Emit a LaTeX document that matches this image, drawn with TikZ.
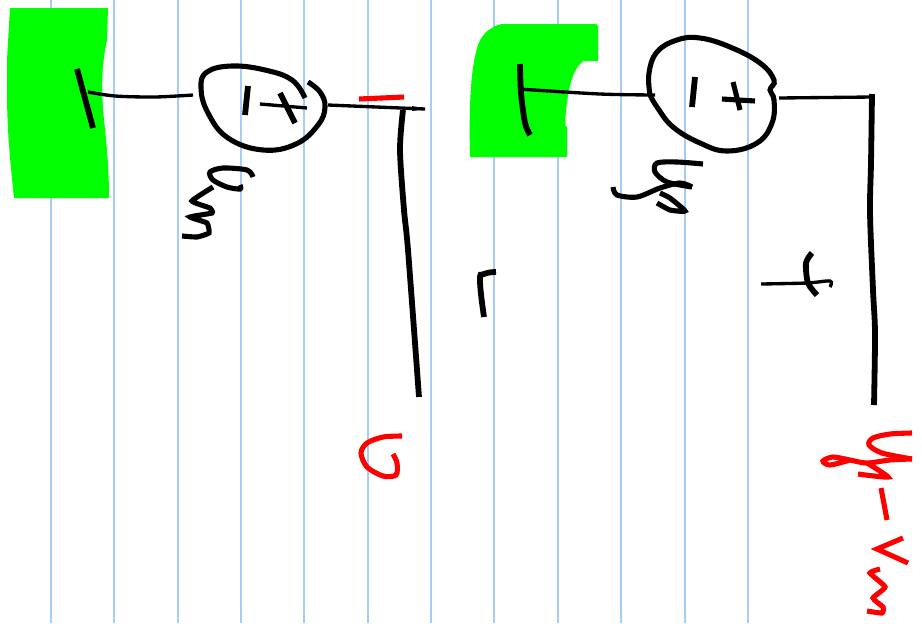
\documentclass[tikz,border=0pt]{standalone}
\usepackage{xcolor}
\definecolor{ruleblue}{RGB}{165,205,250}
\definecolor{inkgreen}{RGB}{0,255,0}
\tikzset{
    thickink/.style={black, line width=3.3pt},
    thinink/.style={black, line width=1.9pt},
    redink/.style={red, line width=2.9pt},
    blackpen/.style={black, line width=2.9pt}
}
\begin{document}
\begin{tikzpicture}[x=0.02cm, y=-0.02cm]
    \useasboundingbox (0,0) rectangle (922,623);
    % Ruled paper
    \foreach \x in {51,114,178,241,304,368,431,494,558,621,685,748}
        \draw[ruleblue, line width=1.1pt] (\x,0) -- (\x,623);
    % Green patches
    \fill[inkgreen] (10,8) -- (108,8) -- (107,40) .. controls (103,60) and (101,75) .. (103,110)
        .. controls (105,130) and (109,160) .. (109,198) -- (14,198)
        .. controls (10,160) and (7,130) .. (7,90) -- (7,60) -- cycle;
    \fill[inkgreen] (502,24) -- (596,24) -- (598,26) -- (598,61) -- (583,61)
        .. controls (572,70) and (567,90) .. (565,125) -- (567,127) -- (567,157) -- (470,157)
        .. controls (469,110) and (470,70) .. (478,45) .. controls (482,33) and (492,26) .. (502,24) -- cycle;
    % Left source
    \draw[thickink] (77,69) -- (93,128);
    \draw[thinink] plot[smooth] coordinates {(88,92) (115,96) (155,97) (193,95)};
    \draw[blackpen] plot[smooth, tension=0.7] coordinates {(305,98) (292,80) (265,70) (232,66) (207,72) (201,88) (208,113) (228,138) (263,150) (296,144) (318,125) (325,107) (320,92) (308,82)};
    \draw[thickink] (248,86) -- (245,115);
    \draw[thinink] (260,104) -- (307,108);
    \draw[thickink] (280,93) -- (295,123);
    \draw[thinink] (328,105) -- (425,109);
    \fill[black] (412,106) -- (426,109) -- (412,111) -- cycle;
    \draw[redink] (359,99) -- (404,97);
    \draw[thickink] plot[smooth] coordinates {(403,110) (400,150) (404,210) (408,250) (419,397)};
    % Handwritten v_m
    \draw[blackpen] plot[smooth] coordinates {(253,177) (247,170) (223,168) (210,172) (213,180) (227,187) (240,189) (240,185)};
    \draw[blackpen] plot[smooth, tension=0.25] coordinates {(213,187) (192,201) (210,208) (212,213) (190,217) (207,223) (209,233) (197,237) (182,236)};
    % Right source
    \draw[thickink] plot[smooth] coordinates {(520,64) (521,93) (525,123) (530,135)};
    \draw[thinink] plot[smooth] coordinates {(518,89) (600,94) (655,95)};
    \draw[blackpen] plot[smooth, tension=0.7] coordinates {(650,95) (649,73) (657,52) (677,40) (700,38) (730,47) (760,63) (774,80) (770,90) (774,100) (772,123) (757,143) (727,151) (700,143) (673,127) (657,107) (650,95)};
    \draw[thickink] (695,77) -- (692,107);
    \draw[blackpen] (722,99) -- (755,101);
    \draw[blackpen] (733,82) -- (740,110);
    \draw[thinink] (779,98) -- (872,97);
    \draw[thickink] plot[smooth] coordinates {(872,94) (871,163) (870,213) (873,290) (875,333) (874,405)};
    % Handwritten v_s
    \draw[blackpen] plot[smooth] coordinates {(703,164) (677,162) (657,163) (655,172) (667,182) (692,187)};
    \draw[blackpen] plot[smooth] coordinates {(613,187) (617,195) (637,197) (660,188) (680,183) (692,187)};
    \draw[blackpen] plot[smooth, tension=0.3] coordinates {(657,203) (670,210) (685,211) (670,198) (660,193)};
    % Middle letters
    \draw[thickink] plot[smooth, tension=0.8] coordinates {(496,272) (484,274) (480,281) (484,317)};
    \draw[thinink] plot[smooth] coordinates {(761,284) (807,283) (830,281) (830,287)};
    \draw[thickink] plot[smooth] coordinates {(812,253) (806,263) (808,283) (817,295)};
    % Red output letters
    \draw[redink] plot[smooth] coordinates {(402,436) (383,437) (367,443) (361,453) (367,467) (383,476) (396,475) (397,463) (393,454)};
    \draw[redink] plot[smooth] coordinates {(912,433) (890,434) (873,438) (869,445) (882,453) (912,459)};
    \draw[redink] plot[smooth] coordinates {(912,459) (890,460) (867,463) (850,460) (833,457) (823,461) (830,465) (850,460)};
    \draw[redink] plot[smooth, tension=0.3] coordinates {(867,463) (888,477) (858,474)};
    \draw[redink] (881,488) -- (887,520);
    \draw[redink] (903,538) -- (877,549) -- (908,563);
    \draw[redink] plot[smooth, tension=0.3] coordinates {(880,569) (870,573) (885,587) (873,598) (883,607) (882,613) (867,611)};
\end{tikzpicture}
\end{document}
